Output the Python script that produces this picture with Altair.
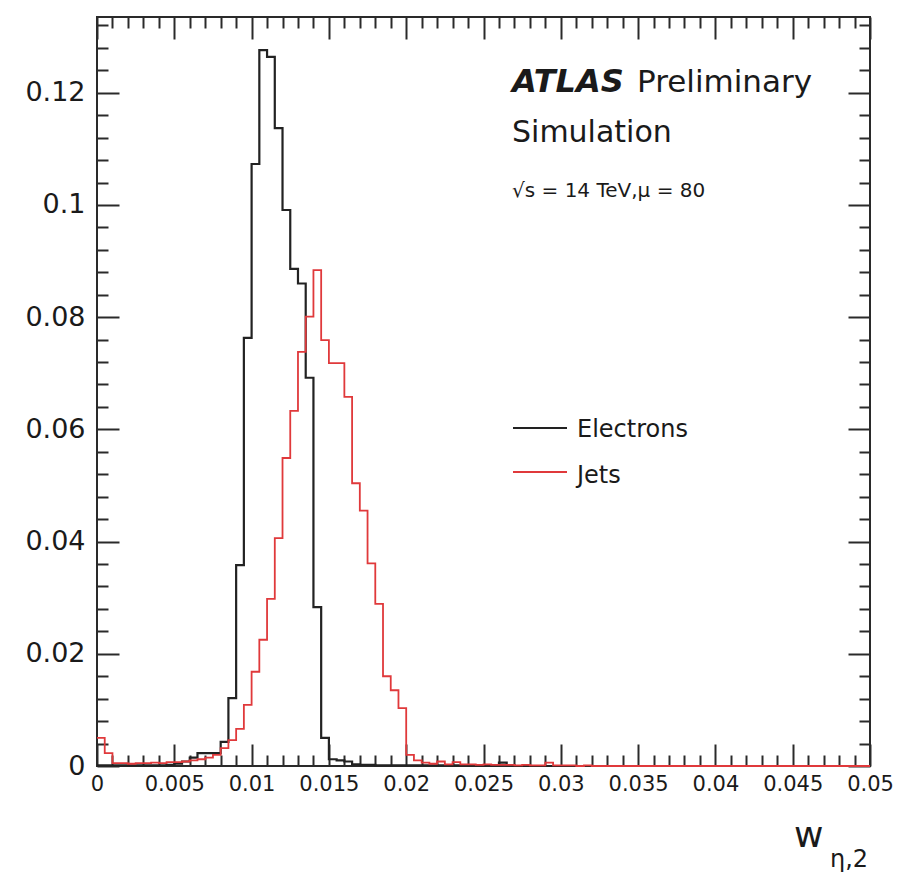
import altair as alt
import pandas as pd

# ---------------- data ----------------
bin_width = 0.0005          # 100 bins between 0 and 0.05
x_min, x_max = 0.0, 0.05
y_max = 0.1335

electrons = [
    0.0001, 0.0001, 0.0001, 0.0001, 0.0001, 0.0001, 0.0001, 0.0001, 0.0001, 0.0002,
    0.0004, 0.0008, 0.0015, 0.0023, 0.0023, 0.0023, 0.0043, 0.0121, 0.0358, 0.0763,
    0.1073, 0.1276, 0.1264, 0.1137, 0.0991, 0.0886, 0.0860, 0.0692, 0.0283, 0.0050,
    0.0012, 0.0010, 0.0008, 0.0003, 0.0002, 0.0002, 0.0001, 0.0001, 0.0001, 0.0001,
    0.0001, 0.0001, 0.0001, 0.0001, 0.0001, 0.0001, 0.0001, 0.0001, 0.0001, 0.0001,
    0.0001, 0.0001, 0.0006, 0.0001, 0.0000, 0.0000, 0.0000, 0.0000, 0.0000, 0.0000,
    0.0000, 0.0000, 0.0000, 0.0000, 0.0000, 0.0000, 0.0000, 0.0000, 0.0000, 0.0000,
    0.0000, 0.0000, 0.0000, 0.0000, 0.0000, 0.0000, 0.0000, 0.0000, 0.0000, 0.0000,
    0.0000, 0.0000, 0.0000, 0.0000, 0.0000, 0.0000, 0.0000, 0.0000, 0.0000, 0.0000,
    0.0000, 0.0000, 0.0000, 0.0000, 0.0000, 0.0000, 0.0000, 0.0000, 0.0000, 0.0000,
]

jets = [
    0.0050, 0.0023, 0.0005, 0.0005, 0.0004, 0.0005, 0.0005, 0.0006, 0.0005, 0.0007,
    0.0007, 0.0008, 0.0010, 0.0012, 0.0015, 0.0020, 0.0032, 0.0046, 0.0066, 0.0109,
    0.0168, 0.0225, 0.0298, 0.0406, 0.0549, 0.0633, 0.0738, 0.0801, 0.0884, 0.0759,
    0.0718, 0.0718, 0.0658, 0.0504, 0.0455, 0.0361, 0.0289, 0.0160, 0.0135, 0.0103,
    0.0020, 0.0010, 0.0006, 0.0004, 0.0008, 0.0003, 0.0007, 0.0003, 0.0003, 0.0002,
    0.0003, 0.0002, 0.0002, 0.0002, 0.0001, 0.0002, 0.0001, 0.0001, 0.0006, 0.0001,
    0.0001, 0.0001, 0.0000, 0.0001, 0.0000, 0.0000, 0.0000, 0.0000, 0.0000, 0.0000,
    0.0000, 0.0000, 0.0000, 0.0000, 0.0000, 0.0000, 0.0000, 0.0000, 0.0000, 0.0000,
    0.0000, 0.0000, 0.0000, 0.0000, 0.0000, 0.0000, 0.0000, 0.0000, 0.0000, 0.0000,
    0.0000, 0.0000, 0.0000, 0.0000, 0.0000, 0.0000, 0.0000, 0.0000, 0.0000, 0.0000,
]

x_major_ticks = [0, 0.005, 0.01, 0.015, 0.02, 0.025, 0.03, 0.035, 0.04, 0.045, 0.05]
y_major_ticks = [0, 0.02, 0.04, 0.06, 0.08, 0.1, 0.12]
x_all_ticks = [round(i * 0.001, 3) for i in range(51)]
y_all_ticks = [round(i * 0.004, 3) for i in range(34)]

header_bold = "ATLAS"
header_rest = "Preliminary"
header_line2 = "Simulation"
header_line3 = "√s = 14 TeV,μ = 80"
legend_labels = ["Electrons", "Jets"]
series_colors = ["#222222", "#e0393b"]
axis_title_main = "w"
axis_title_sub = "η,2"

# ---------------- layout ----------------
W, H = 773, 749
FONT = "DejaVu Sans"
TXT = "#1a1a1a"
FRAME = "#2a2a2a"


def step_frame(values):
    edges = [round(i * bin_width, 4) for i in range(len(values) + 1)]
    return pd.DataFrame({"edge": edges, "value": list(values) + [values[-1]]})


el_df = step_frame(electrons)
jet_df = step_frame(jets)

xscale = alt.Scale(domain=[x_min, x_max], nice=False, zero=False)
yscale = alt.Scale(domain=[0, y_max], nice=False)

x_major_test = "abs(datum.value*200 - round(datum.value*200)) < 0.01"
y_major_test = "abs(datum.value*50 - round(datum.value*50)) < 0.01"


def tick_axis(orient, offset, values, test):
    return alt.Axis(
        orient=orient, offset=offset, values=values, labels=False, domain=False,
        grid=False, ticks=True, title=None, tickColor=FRAME, tickWidth=2,
        tickSize={"condition": {"test": test, "value": 22}, "value": 11},
    )


label_x_axis = alt.Axis(
    orient="bottom", values=x_major_ticks, format="~g", ticks=False, tickSize=0,
    domain=False, grid=False, title=None, labelFont=FONT, labelFontSize=21,
    labelColor=TXT, labelPadding=7, labelFlush=False, labelOverlap=False,
)
label_y_axis = alt.Axis(
    orient="left", values=y_major_ticks, format="~g", ticks=False, tickSize=0,
    domain=False, grid=False, title=None, labelFont=FONT, labelFontSize=27,
    labelColor=TXT, labelPadding=12, labelFlush=False, labelOverlap=False,
)

electron_line = alt.Chart(el_df).mark_line(
    interpolate="step-after", color=series_colors[0], strokeWidth=2.2
).encode(
    x=alt.X("edge:Q", scale=xscale, axis=label_x_axis),
    y=alt.Y("value:Q", scale=yscale, axis=label_y_axis),
)

jet_line = alt.Chart(jet_df).mark_line(
    interpolate="step-after", color=series_colors[1], strokeWidth=1.8
).encode(
    x=alt.X("edge:Q", scale=xscale, axis=tick_axis("top", -H, x_all_ticks, x_major_test)),
    y=alt.Y("value:Q", scale=yscale, axis=tick_axis("right", -W, y_all_ticks, y_major_test)),
)

ghost = alt.Chart(jet_df).mark_line(opacity=0).encode(
    x=alt.X("edge:Q", scale=xscale, axis=tick_axis("bottom", -H, x_all_ticks, x_major_test)),
    y=alt.Y("value:Q", scale=yscale, axis=tick_axis("left", -W, y_all_ticks, y_major_test)),
)


def label(text, px, py, size, weight="normal", style="normal"):
    return alt.Chart(pd.DataFrame({"t": [text]})).mark_text(
        align="left", baseline="alphabetic", font=FONT, fontSize=size,
        fontWeight=weight, fontStyle=style, color=TXT,
    ).encode(text="t:N", x=alt.value(px), y=alt.value(py))


def legend_line(color, py):
    return alt.Chart(pd.DataFrame({"k": [0]})).mark_rule(
        color=color, strokeWidth=2
    ).encode(x=alt.value(416), x2=alt.value(470), y=alt.value(py))


texts = [
    label(header_bold, 415, 75, 32, weight="bold", style="italic"),
    label(header_rest, 540, 75, 31),
    label(header_line2, 415, 125, 30),
    label(header_line3, 415, 180, 20),
    legend_line(series_colors[0], 411),
    label(legend_labels[0], 480, 420, 24),
    legend_line(series_colors[1], 455),
    label(legend_labels[1], 480, 466, 24),
    label(axis_title_main, 697, 830, 36),
    label(axis_title_sub, 733, 850, 24),
]

chart = alt.layer(electron_line, jet_line, ghost, *texts).resolve_axis(
    x="independent", y="independent"
).properties(
    width=W, height=H,
    autosize=alt.AutoSizeParams(type="none"),
    padding={"left": 97, "top": 17, "right": 27, "bottom": 108},
).configure_view(
    stroke=FRAME, strokeWidth=2
)

chart.save("out.html", embed_options={"renderer": "svg", "actions": False})
